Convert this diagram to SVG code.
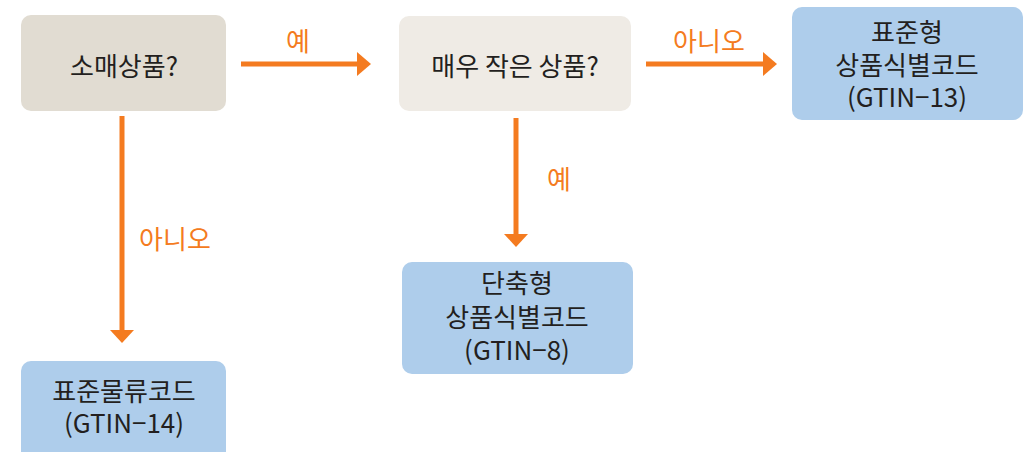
<svg xmlns="http://www.w3.org/2000/svg" width="1029" height="452" viewBox="0 0 1029 452">
<defs>
<style>
.t{font-family:"Noto Sans CJK KR","Noto Sans",sans-serif;font-size:26px;fill:#231f20;text-anchor:middle}
.l{font-family:"Noto Sans CJK KR","Noto Sans",sans-serif;font-size:26px;fill:#f47b20;text-anchor:middle}
.c{stroke:#f47b20;stroke-width:5;fill:none}
.h{fill:#f47b20}
.q1{fill:#e1dcd2}
.q2{fill:#efebe5}
.r{fill:#aecdeb}
</style>
</defs>
<rect width="1029" height="452" fill="#ffffff"/>
<g id="connectors">
<line class="c" x1="241" y1="64" x2="358" y2="64"/>
<polygon class="h" points="357,52 371,64 357,76"/>
<line class="c" x1="646" y1="64" x2="764" y2="64"/>
<polygon class="h" points="763,52 777,64 763,76"/>
<line class="c" x1="122" y1="116" x2="122" y2="331"/>
<polygon class="h" points="110,330 134,330 122,343"/>
<line class="c" x1="516" y1="118" x2="516" y2="235"/>
<polygon class="h" points="504,234 528,234 516,247"/>
<text class="l" x="298" y="51">예</text>
<text class="l" x="709" y="51">아니오</text>
<text class="l" x="175" y="249">아니오</text>
<text class="l" x="559" y="189">예</text>
</g>
<g id="n1">
<rect class="q1" x="21" y="15" width="205" height="96" rx="10"/>
<text class="t" x="124" y="76">소매상품?</text>
</g>
<g id="n2">
<rect class="q2" x="399" y="16" width="232" height="95" rx="10"/>
<text class="t" x="515" y="76">매우 작은 상품?</text>
</g>
<g id="n3">
<rect class="r" x="792" y="7" width="231" height="113" rx="10"/>
<text class="t" x="907" y="42">표준형</text>
<text class="t" x="907" y="75">상품식별코드</text>
<text class="t" x="907" y="107">(GTIN−13)</text>
</g>
<g id="n4">
<rect class="r" x="21" y="361" width="205" height="100" rx="10"/>
<text class="t" x="124" y="401">표준물류코드</text>
<text class="t" x="124" y="433">(GTIN−14)</text>
</g>
<g id="n5">
<rect class="r" x="402" y="262" width="231" height="112" rx="10"/>
<text class="t" x="517" y="293">단축형</text>
<text class="t" x="517" y="327">상품식별코드</text>
<text class="t" x="517" y="360">(GTIN−8)</text>
</g>
</svg>
